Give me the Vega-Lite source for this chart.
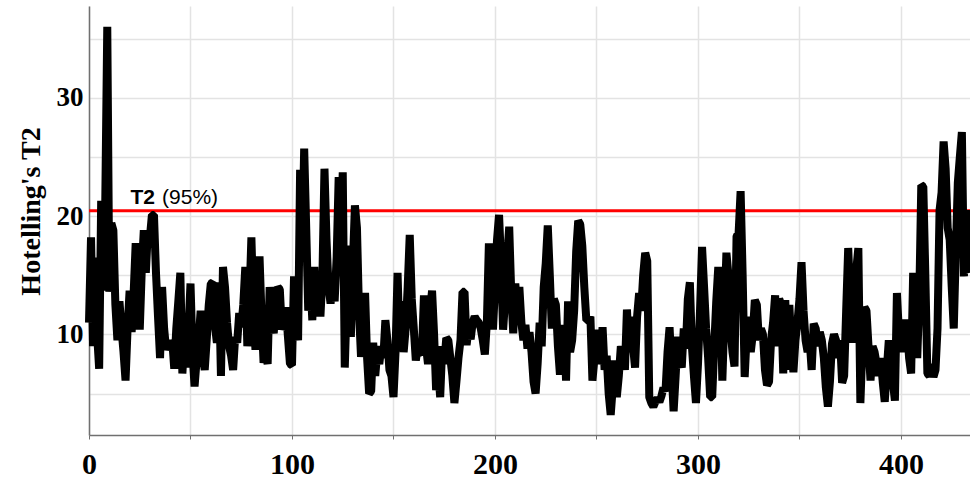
{
  "$schema": "https://vega.github.io/schema/vega-lite/v6.json",
  "width": 881,
  "height": 429,
  "autosize": {"type": "none"},
  "padding": {"left": 89, "top": 6, "right": 0, "bottom": 45},
  "background": "white",
  "config": {
    "view": {"stroke": null},
    "axis": {
      "grid": true,
      "gridColor": "#e3e3e3",
      "gridWidth": 1.5,
      "domainColor": "#707070",
      "domainWidth": 1.5,
      "tickColor": "#707070",
      "labelColor": "black",
      "labelFont": "Liberation Serif",
      "labelFontWeight": "bold",
      "titleColor": "black",
      "titleFont": "Liberation Serif",
      "titleFontWeight": "bold"
    }
  },
  "layer": [
    {
      "data": {"values": [{"limit": 20.45}]},
      "mark": {"type": "rule", "color": "#ff0000", "strokeWidth": 3},
      "encoding": {"y": {"field": "limit", "type": "quantitative"}}
    },
    {
      "data": {
        "values": [
          {"sample":0,"t2":11},{"sample":1,"t2":18.2},{"sample":2,"t2":9},{"sample":3,"t2":16.5},{"sample":4,"t2":10},
          {"sample":5,"t2":7.1},{"sample":6,"t2":21.3},{"sample":7,"t2":13.7},{"sample":8,"t2":21},{"sample":9,"t2":36},
          {"sample":10,"t2":13.6},{"sample":11,"t2":19.4},{"sample":12,"t2":18.8},{"sample":13,"t2":12.5},{"sample":14,"t2":9.5},
          {"sample":15,"t2":12.8},{"sample":16,"t2":10.5},{"sample":17,"t2":8.5},{"sample":18,"t2":6.1},{"sample":19,"t2":10.5},
          {"sample":20,"t2":13.7},{"sample":21,"t2":10.2},{"sample":22,"t2":13.5},{"sample":23,"t2":17.7},{"sample":24,"t2":13.9},
          {"sample":25,"t2":10.4},{"sample":26,"t2":15.5},{"sample":27,"t2":18.8},{"sample":28,"t2":15.2},{"sample":29,"t2":18.8},
          {"sample":30,"t2":18.2},{"sample":31,"t2":20.1},{"sample":32,"t2":20.1},{"sample":33,"t2":15.2},{"sample":34,"t2":11.5},
          {"sample":35,"t2":8.0},{"sample":36,"t2":14.0},{"sample":37,"t2":10.5},{"sample":38,"t2":8.7},{"sample":39,"t2":9.2},
          {"sample":40,"t2":8.8},{"sample":41,"t2":9.5},{"sample":42,"t2":7.1},{"sample":43,"t2":10.5},{"sample":44,"t2":12.8},
          {"sample":45,"t2":15.2},{"sample":46,"t2":6.7},{"sample":47,"t2":9.8},{"sample":48,"t2":7.2},{"sample":49,"t2":10.4},
          {"sample":50,"t2":14.3},{"sample":51,"t2":8.5},{"sample":52,"t2":5.6},{"sample":53,"t2":7.8},{"sample":54,"t2":9.5},
          {"sample":55,"t2":12.0},{"sample":56,"t2":8.2},{"sample":57,"t2":7.0},{"sample":58,"t2":9.6},{"sample":59,"t2":12.5},
          {"sample":60,"t2":14.3},{"sample":61,"t2":14.4},{"sample":62,"t2":10.8},{"sample":63,"t2":9.3},{"sample":64,"t2":14.4},
          {"sample":65,"t2":6.5},{"sample":66,"t2":15.7},{"sample":67,"t2":14.0},{"sample":68,"t2":11.0},{"sample":69,"t2":9.0},
          {"sample":70,"t2":8.2},{"sample":71,"t2":7.0},{"sample":72,"t2":9.8},{"sample":73,"t2":9.3},{"sample":74,"t2":11.8},
          {"sample":75,"t2":10.6},{"sample":76,"t2":12.5},{"sample":77,"t2":15.7},{"sample":78,"t2":9.0},{"sample":79,"t2":12.8},
          {"sample":80,"t2":18.2},{"sample":81,"t2":12.0},{"sample":82,"t2":8.7},{"sample":83,"t2":11.2},{"sample":84,"t2":16.6},
          {"sample":85,"t2":11.5},{"sample":86,"t2":7.6},{"sample":87,"t2":8.5},{"sample":88,"t2":7.5},{"sample":89,"t2":14.0},
          {"sample":90,"t2":11.0},{"sample":91,"t2":10.1},{"sample":92,"t2":12.5},{"sample":93,"t2":14.0},{"sample":94,"t2":13.8},
          {"sample":95,"t2":10.4},{"sample":96,"t2":11.0},{"sample":97,"t2":12.3},{"sample":98,"t2":9.8},{"sample":99,"t2":7.5},
          {"sample":100,"t2":7.4},{"sample":101,"t2":14.9},{"sample":102,"t2":11.0},{"sample":103,"t2":9.5},{"sample":104,"t2":23.9},
          {"sample":105,"t2":17.0},{"sample":106,"t2":25.7},{"sample":107,"t2":19.0},{"sample":108,"t2":12.0},{"sample":109,"t2":15.0},
          {"sample":110,"t2":11.2},{"sample":111,"t2":15.7},{"sample":112,"t2":12.0},{"sample":113,"t2":15.3},{"sample":114,"t2":11.5},
          {"sample":115,"t2":15.0},{"sample":116,"t2":24.0},{"sample":117,"t2":18.0},{"sample":118,"t2":14.0},{"sample":119,"t2":12.6},
          {"sample":120,"t2":14.5},{"sample":121,"t2":12.8},{"sample":122,"t2":16.5},{"sample":123,"t2":23.3},{"sample":124,"t2":18.0},
          {"sample":125,"t2":23.7},{"sample":126,"t2":7.2},{"sample":127,"t2":13.0},{"sample":128,"t2":17.5},{"sample":129,"t2":9.8},
          {"sample":130,"t2":16.0},{"sample":131,"t2":20.9},{"sample":132,"t2":19.0},{"sample":133,"t2":12.0},{"sample":134,"t2":8.1},
          {"sample":135,"t2":10.5},{"sample":136,"t2":13.5},{"sample":137,"t2":8.0},{"sample":138,"t2":5.0},{"sample":139,"t2":5.2},
          {"sample":140,"t2":9.3},{"sample":141,"t2":6.5},{"sample":142,"t2":8.5},{"sample":143,"t2":7.5},{"sample":144,"t2":9.0},
          {"sample":145,"t2":8.0},{"sample":146,"t2":11.2},{"sample":147,"t2":9.5},{"sample":148,"t2":7.0},{"sample":149,"t2":6.5},
          {"sample":150,"t2":4.7},{"sample":151,"t2":8.5},{"sample":152,"t2":15.2},{"sample":153,"t2":9.0},{"sample":154,"t2":12.8},
          {"sample":155,"t2":8.5},{"sample":156,"t2":10.5},{"sample":157,"t2":14.0},{"sample":158,"t2":18.4},{"sample":159,"t2":13.0},
          {"sample":160,"t2":10.5},{"sample":161,"t2":7.8},{"sample":162,"t2":9.0},{"sample":163,"t2":8.5},{"sample":164,"t2":8.3},
          {"sample":165,"t2":13.3},{"sample":166,"t2":9.0},{"sample":167,"t2":7.5},{"sample":168,"t2":12.0},{"sample":169,"t2":13.7},
          {"sample":170,"t2":10.0},{"sample":171,"t2":5.3},{"sample":172,"t2":7.0},{"sample":173,"t2":4.7},{"sample":174,"t2":9.0},
          {"sample":175,"t2":7.5},{"sample":176,"t2":9.7},{"sample":177,"t2":9.5},{"sample":178,"t2":8.0},{"sample":179,"t2":6.5},
          {"sample":180,"t2":4.2},{"sample":181,"t2":6.0},{"sample":182,"t2":8.0},{"sample":183,"t2":9.5},{"sample":184,"t2":13.6},
          {"sample":185,"t2":13.6},{"sample":186,"t2":9.1},{"sample":187,"t2":10.5},{"sample":188,"t2":9.6},{"sample":189,"t2":11.0},
          {"sample":190,"t2":11.5},{"sample":191,"t2":11.2},{"sample":192,"t2":11.0},{"sample":193,"t2":10.5},{"sample":194,"t2":9.5},
          {"sample":195,"t2":8.3},{"sample":196,"t2":11.0},{"sample":197,"t2":17.7},{"sample":198,"t2":15.5},{"sample":199,"t2":10.4},
          {"sample":200,"t2":14.0},{"sample":201,"t2":18.0},{"sample":202,"t2":20.1},{"sample":203,"t2":16.0},{"sample":204,"t2":10.4},
          {"sample":205,"t2":13.0},{"sample":206,"t2":16.5},{"sample":207,"t2":19.1},{"sample":208,"t2":13.5},{"sample":209,"t2":10.1},
          {"sample":210,"t2":14.3},{"sample":211,"t2":12.0},{"sample":212,"t2":14.0},{"sample":213,"t2":11.0},{"sample":214,"t2":9.5},
          {"sample":215,"t2":10.8},{"sample":216,"t2":8.8},{"sample":217,"t2":10.2},{"sample":218,"t2":8.5},{"sample":219,"t2":6.0},
          {"sample":220,"t2":5.0},{"sample":221,"t2":7.5},{"sample":222,"t2":11.0},{"sample":223,"t2":9.0},{"sample":224,"t2":14.0},
          {"sample":225,"t2":16.0},{"sample":226,"t2":19.2},{"sample":227,"t2":15.0},{"sample":228,"t2":10.5},{"sample":229,"t2":13.0},
          {"sample":230,"t2":12.5},{"sample":231,"t2":9.0},{"sample":232,"t2":6.6},{"sample":233,"t2":9.0},{"sample":234,"t2":10.8},
          {"sample":235,"t2":6.1},{"sample":236,"t2":12.8},{"sample":237,"t2":8.5},{"sample":238,"t2":9.5},{"sample":239,"t2":12.0},
          {"sample":240,"t2":17.0},{"sample":241,"t2":19.6},{"sample":242,"t2":19.3},{"sample":243,"t2":17.5},{"sample":244,"t2":14.0},
          {"sample":245,"t2":11.2},{"sample":246,"t2":11.2},{"sample":247,"t2":11.5},{"sample":248,"t2":6.1},{"sample":249,"t2":8.0},
          {"sample":250,"t2":10.4},{"sample":251,"t2":7.5},{"sample":252,"t2":8.5},{"sample":253,"t2":10.6},{"sample":254,"t2":7.0},
          {"sample":255,"t2":8.2},{"sample":256,"t2":5.0},{"sample":257,"t2":3.2},{"sample":258,"t2":5.5},{"sample":259,"t2":7.8},
          {"sample":260,"t2":4.7},{"sample":261,"t2":6.5},{"sample":262,"t2":9.0},{"sample":263,"t2":8.5},{"sample":264,"t2":7.0},
          {"sample":265,"t2":12.1},{"sample":266,"t2":8.5},{"sample":267,"t2":11.5},{"sample":268,"t2":9.0},{"sample":269,"t2":7.2},
          {"sample":270,"t2":11.5},{"sample":271,"t2":13.5},{"sample":272,"t2":12.0},{"sample":273,"t2":15.0},{"sample":274,"t2":16.9},
          {"sample":275,"t2":16.2},{"sample":276,"t2":4.7},{"sample":277,"t2":4.2},{"sample":278,"t2":3.9},{"sample":279,"t2":4.3},
          {"sample":280,"t2":4.6},{"sample":281,"t2":4.3},{"sample":282,"t2":4.8},{"sample":283,"t2":5.5},{"sample":284,"t2":5.2},
          {"sample":285,"t2":8.5},{"sample":286,"t2":10.6},{"sample":287,"t2":7.0},{"sample":288,"t2":3.5},{"sample":289,"t2":6.5},
          {"sample":290,"t2":9.8},{"sample":291,"t2":8.0},{"sample":292,"t2":7.2},{"sample":293,"t2":10.5},{"sample":294,"t2":8.8},
          {"sample":295,"t2":13.0},{"sample":296,"t2":14.4},{"sample":297,"t2":9.0},{"sample":298,"t2":6.5},{"sample":299,"t2":4.2},
          {"sample":300,"t2":7.5},{"sample":301,"t2":12.0},{"sample":302,"t2":17.4},{"sample":303,"t2":14.0},{"sample":304,"t2":10.5},
          {"sample":305,"t2":8.0},{"sample":306,"t2":4.7},{"sample":307,"t2":4.7},{"sample":308,"t2":9.0},{"sample":309,"t2":12.8},
          {"sample":310,"t2":15.7},{"sample":311,"t2":14.0},{"sample":312,"t2":6.1},{"sample":313,"t2":11.5},{"sample":314,"t2":16.9},
          {"sample":315,"t2":15.0},{"sample":316,"t2":10.5},{"sample":317,"t2":8.5},{"sample":318,"t2":7.3},{"sample":319,"t2":18.3},
          {"sample":320,"t2":18.5},{"sample":321,"t2":22.1},{"sample":322,"t2":15.0},{"sample":323,"t2":6.4},{"sample":324,"t2":10.0},
          {"sample":325,"t2":11.5},{"sample":326,"t2":8.5},{"sample":327,"t2":10.0},{"sample":328,"t2":12.9},{"sample":329,"t2":12.5},
          {"sample":330,"t2":9.5},{"sample":331,"t2":10.5},{"sample":332,"t2":10.0},{"sample":333,"t2":7.0},{"sample":334,"t2":5.7},
          {"sample":335,"t2":6.0},{"sample":336,"t2":9.5},{"sample":337,"t2":11.0},{"sample":338,"t2":13.3},{"sample":339,"t2":9.0},
          {"sample":340,"t2":13.0},{"sample":341,"t2":12.5},{"sample":342,"t2":6.7},{"sample":343,"t2":12.9},{"sample":344,"t2":7.0},
          {"sample":345,"t2":12.5},{"sample":346,"t2":9.0},{"sample":347,"t2":6.8},{"sample":348,"t2":9.5},{"sample":349,"t2":11.0},
          {"sample":350,"t2":13.0},{"sample":351,"t2":16.1},{"sample":352,"t2":12.0},{"sample":353,"t2":9.5},{"sample":354,"t2":8.5},
          {"sample":355,"t2":9.5},{"sample":356,"t2":7.0},{"sample":357,"t2":10.9},{"sample":358,"t2":10.5},{"sample":359,"t2":9.0},
          {"sample":360,"t2":10.2},{"sample":361,"t2":9.5},{"sample":362,"t2":8.0},{"sample":363,"t2":5.5},{"sample":364,"t2":3.9},
          {"sample":365,"t2":6.0},{"sample":366,"t2":9.2},{"sample":367,"t2":10.0},{"sample":368,"t2":9.5},{"sample":369,"t2":8.0},
          {"sample":370,"t2":9.5},{"sample":371,"t2":5.9},{"sample":372,"t2":6.5},{"sample":373,"t2":12.0},{"sample":374,"t2":17.3},
          {"sample":375,"t2":13.0},{"sample":376,"t2":9.3},{"sample":377,"t2":14.0},{"sample":378,"t2":15.5},{"sample":379,"t2":17.3},
          {"sample":380,"t2":4.2},{"sample":381,"t2":9.0},{"sample":382,"t2":12.3},{"sample":383,"t2":12.0},{"sample":384,"t2":9.0},
          {"sample":385,"t2":6.1},{"sample":386,"t2":9.0},{"sample":387,"t2":8.5},{"sample":388,"t2":7.5},{"sample":389,"t2":6.5},
          {"sample":390,"t2":8.0},{"sample":391,"t2":6.0},{"sample":392,"t2":4.3},{"sample":393,"t2":7.0},{"sample":394,"t2":9.5},
          {"sample":395,"t2":8.0},{"sample":396,"t2":6.0},{"sample":397,"t2":4.4},{"sample":398,"t2":13.5},{"sample":399,"t2":10.0},
          {"sample":400,"t2":8.5},{"sample":401,"t2":10.5},{"sample":402,"t2":11.2},{"sample":403,"t2":10.5},{"sample":404,"t2":8.0},
          {"sample":405,"t2":6.7},{"sample":406,"t2":15.2},{"sample":407,"t2":11.0},{"sample":408,"t2":8.0},{"sample":409,"t2":13.0},
          {"sample":410,"t2":22.6},{"sample":411,"t2":22.5},{"sample":412,"t2":15.0},{"sample":413,"t2":6.7},{"sample":414,"t2":6.5},
          {"sample":415,"t2":7.5},{"sample":416,"t2":6.4},{"sample":417,"t2":7.0},{"sample":418,"t2":10.5},{"sample":419,"t2":20.5},
          {"sample":420,"t2":22.0},{"sample":421,"t2":26.3},{"sample":422,"t2":24.0},{"sample":423,"t2":19.0},{"sample":424,"t2":18.0},
          {"sample":425,"t2":14.0},{"sample":426,"t2":10.5},{"sample":427,"t2":17.0},{"sample":428,"t2":22.8},{"sample":429,"t2":25.0},
          {"sample":430,"t2":27.1},{"sample":431,"t2":14.9},{"sample":432,"t2":20.5},{"sample":433,"t2":16.0},{"sample":434,"t2":15.2}
        ]
      },
      "mark": {"type": "line", "color": "black", "strokeWidth": 8, "strokeJoin": "bevel"},
      "encoding": {
        "x": {
          "field": "sample",
          "type": "quantitative",
          "scale": {"domain": [0, 434], "nice": false, "zero": false},
          "axis": {
            "title": null,
            "values": [0, 50, 100, 150, 200, 250, 300, 350, 400],
            "labelExpr": "datum.value % 100 === 0 ? datum.label : ''",
            "labelFontSize": 30,
            "labelFlush": false,
            "labelOverlap": false,
            "tickSize": 4,
            "labelPadding": 10
          }
        },
        "y": {
          "field": "t2",
          "type": "quantitative",
          "scale": {"domain": [1.5, 37.75], "nice": false, "zero": false},
          "axis": {
            "title": "Hotelling's T2",
            "values": [5, 10, 15, 20, 25, 30, 35],
            "labelExpr": "datum.value % 10 === 0 ? datum.label : ''",
            "labelFontSize": 27,
            "labelOverlap": false,
            "ticks": false,
            "labelPadding": 6,
            "titleFontSize": 28,
            "titlePadding": 11,
            "titleY": 205
          }
        }
      }
    },
    {
      "data": {"values": [{"pos": 20.4, "limit": 20.45}]},
      "mark": {"type": "text", "text": "T2", "align": "left", "baseline": "alphabetic", "dy": -7, "font": "Liberation Sans", "fontWeight": "bold", "fontSize": 21, "color": "black"},
      "encoding": {"x": {"field": "pos", "type": "quantitative"}, "y": {"field": "limit", "type": "quantitative"}}
    },
    {
      "data": {"values": [{"pos": 36.0, "limit": 20.45}]},
      "mark": {"type": "text", "text": "(95%)", "align": "left", "baseline": "alphabetic", "dy": -7, "font": "Liberation Sans", "fontSize": 21, "color": "black"},
      "encoding": {"x": {"field": "pos", "type": "quantitative"}, "y": {"field": "limit", "type": "quantitative"}}
    }
  ]
}
